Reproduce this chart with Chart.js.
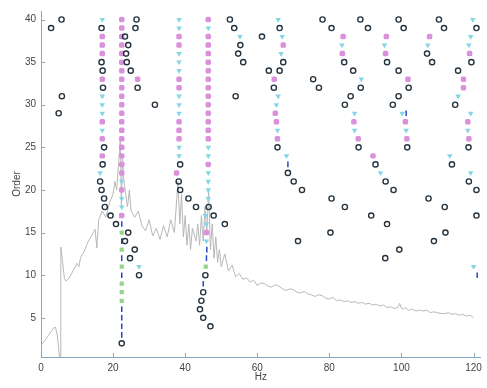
<!DOCTYPE html>
<html>
<head>
<meta charset="utf-8">
<script src="https://cdn.jsdelivr.net/npm/chart.js@4.4.1/dist/chart.umd.min.js"></script>
<style>
  html, body { margin: 0; padding: 0; background: #ffffff; }
  #wrap { width: 487px; height: 388px; }
</style>
</head>
<body>
<div id="wrap"><canvas id="c" width="487" height="388"></canvas></div>
<script>
// ---- tick labels ----
const xTicks = [0, 20, 40, 60, 80, 100, 120];
const yTicks = [5, 10, 15, 20, 25, 30, 35, 40];

// ---- spectrum (grey line), frequency [Hz] and scaled level (order units) ----
const specHz = [0,0.5,1,1.5,2,2.5,3,3.5,4,4.5,5,5.3,5.5,6,6.5,7,8,9,10,10.5,11,12,13,14,15,15.5,16,17,18,19,20,20.5,21,21.5,22,22.3,22.6,23,23.5,24,24.5,25,26,27,28,29,30,31,32,33,34,35,36,37,37.5,38,38.5,39,39.5,40,40.5,41,41.5,42,43,43.5,44,44.5,45,45.5,46,46.5,47,47.5,48,48.5,49,49.5,50,51,52,53,54,55,56,57,58,59,60,61,62,63,64,65,66,67,68,69,70,71,72,73,74,75,76,77,78,79,80,81,82,83,84,85,86,87,88,89,90,91,92,93,94,95,96,97,98,99,99.5,100,100.5,101,102,103,104,105,106,107,108,109,110,111,112,113,114,115,116,117,118,119,120];
const specVal = [1.8,2.0,2.3,2.6,2.9,3.2,3.5,3.8,3.9,3.0,1.0,0.1,13.3,11.5,9.6,9.3,9.8,10.6,11.4,11.0,12.1,12.8,13.9,14.6,15.4,13.2,16.5,17.5,16.8,18.5,19.5,21.0,20.0,23.0,26.0,18.0,24.0,21.0,19.5,18.0,20.0,17.5,16.8,17.5,15.8,15.2,16.5,14.6,15.5,14.2,15.8,14.5,16.5,15.0,18.0,21.0,16.0,19.5,14.5,17.0,13.5,16.0,13.0,15.5,14.0,16.0,13.5,17.0,14.0,18.0,15.0,20.0,13.0,16.0,12.0,14.5,11.5,13.0,11.0,12.5,10.5,11.2,9.8,10.2,9.5,9.7,9.2,9.4,8.8,9.1,9.0,8.7,8.6,8.9,8.7,8.4,8.2,8.4,8.3,8.0,7.9,8.1,7.8,7.7,7.5,7.7,7.6,7.3,7.2,7.4,7.0,7.1,6.9,7.0,6.8,6.9,6.7,6.8,6.6,6.7,6.5,6.6,6.4,6.5,6.2,6.3,6.1,6.2,6.7,6.1,6.0,6.2,5.9,6.0,5.8,5.9,5.8,5.9,5.6,5.7,5.6,5.5,5.5,5.6,5.4,5.5,5.3,5.4,5.2,5.3,5.0];

// ---- poles: [Hz, model order] ----
// "o" new pole
const newPole = [
  [5.7,40],[2.8,39],[5.8,31],[4.9,29],[31.6,30],
  [16.8,39],[16.8,35],[17.1,34],[17.2,32],[17.5,25],[17.1,23],[16.4,21],[16.8,20],[17.5,19],[17.7,18],[19.3,17],[20.8,16],
  [26.5,40],[26.2,39],[23.3,38],[24.2,37],[23.6,36],[23.8,35],[24.9,34],[26.8,32],
  [24.2,15],[23.3,14],[26.0,13],[24.7,12],[27.2,10],[22.4,2],
  [38.6,23],[38.2,21],[38.6,20],[40.9,19],[43.0,18],
  [46.5,18],[47.9,17],[51.0,16],
  [45.6,10],[45.0,8],[44.5,7],[44.1,6],[45.0,5],[47.0,4],
  [52.4,40],[53.6,39],[55.3,37],[54.7,36],[56.1,35],[61.3,38],[54.0,31],
  [66.2,39],[67.2,35],[63.2,34],[66.2,34],[64.6,32],[65.6,25],[68.5,22],[70.1,21],[72.4,20],[71.3,14],
  [75.5,33],[77.1,32],
  [78.1,40],[80.6,39],[84.1,35],[86.6,34],[88.7,32],[85.9,31],[84.3,30],[88.1,25],[92.8,23],[95.6,21],[97.8,20],
  [88.6,40],[90.7,39],[96.0,35],[99.2,34],[102.0,32],[99.2,31],[97.6,30],[101.6,25],
  [99.2,40],[100.6,39],[107.1,36],[108.5,35],[115.7,34],[114.9,30],[114.0,23],[118.7,21],[120.8,20],
  [110.4,40],[111.8,39],[120.8,39],[119.4,35],[118.6,25],
  [80.6,19],[84.3,18],[91.6,17],[96.0,16],[80.3,15],[99.4,13],[109.0,14],[112.2,15],[112.0,18],[107.5,19],[120.8,17],[95.5,12]
];
// "f" stable frequency
const stableFreq = [
  [22.4,16],[22.4,14],[22.4,12],[22.4,10],[22.4,6],[22.4,5],[22.4,4],[22.4,3],
  [46.0,13],[45.9,12],[45.0,9],
  [68.5,23],[101.3,29],[121.0,10]
];
// "v" stable frequency and vector
const stableVec = [
  [17.0,40],[17.0,31],[17.0,30],[17.0,29],[17.0,27],[16.4,22],
  [22.4,21],[22.4,19],[22.4,18],
  [38.3,40],[38.3,39],[38.3,36],[38.3,35],[38.3,34],[38.3,31],[38.3,30],[38.3,29],[38.3,25],[38.3,24],
  [46.4,39],[46.4,25],[46.4,24],[46.4,22],[46.4,21],[46.4,20],[46.4,19],[45.6,17],[45.9,16],[45.9,14],
  [27.2,11],[55.2,38],
  [65.8,40],[66.9,38],[66.6,36],[65.8,31],[65.3,30],[65.6,27],[68.1,24],
  [83.5,37],[88.9,33],[87.0,29],[87.0,27],[94.2,22],
  [95.3,37],[100.2,29],[101.3,27],
  [107.3,37],[115.7,31],[119.2,29],[118.4,27],[113.4,24],[119.2,22],
  [119.8,40],[119.2,38],[118.7,37],[120.0,11]
];
// "d" stable frequency and damping
const stableDamp = [
  [22.4,15],[22.4,13],[22.4,11],[22.4,9],[22.4,8],[22.4,7],[45.7,11]
];
// "s" stable in all criteria
const stableAll = [
  [17.0,38],[17.0,37],[17.0,36],[17.0,33],[17.0,28],[17.0,26],[17.0,24],
  [22.4,40],[22.4,39],[22.4,38],[22.4,37],[22.4,36],[22.4,35],[22.4,34],[22.4,33],[22.4,32],[22.4,31],[22.4,30],
  [22.4,29],[22.4,28],[22.4,27],[22.4,26],[22.4,25],[22.4,24],[22.4,23],[22.4,22],[22.4,20],[22.4,17],
  [26.8,33],
  [38.3,38],[38.3,37],[38.3,33],[38.3,32],[38.3,28],[38.3,27],[38.3,26],[37.6,22],
  [46.4,40],[46.4,38],[46.4,37],[46.4,36],[46.4,35],[46.4,34],[46.4,33],[46.4,32],[46.4,31],[46.4,30],[46.4,29],
  [46.4,28],[46.4,27],[46.4,26],[46.4,23],[45.9,15],
  [67.2,37],[64.7,33],[65.0,29],[65.3,28],[65.6,26],
  [83.8,38],[83.6,36],[86.8,28],[88.0,26],[92.1,24],
  [95.8,38],[95.6,36],[101.8,33],[101.1,28],[101.5,26],
  [107.8,38],[117.2,33],[117.2,32],[118.4,28],[118.7,26],
  [118.9,36]
];

const toXY = arr => arr.map(p => ({x: p[0], y: p[1]}));
const axisColor = '#86a9bf';

const inwardTicks = {
  id: 'inwardTicks',
  afterDatasetsDraw(chart) {
    const {ctx, chartArea, scales} = chart;
    ctx.save();
    ctx.strokeStyle = axisColor;
    ctx.lineWidth = 1;
    xTicks.forEach(v => {
      const px = Math.round(scales.x.getPixelForValue(v)) + 0.5;
      ctx.beginPath(); ctx.moveTo(px, chartArea.bottom); ctx.lineTo(px, chartArea.bottom - 4); ctx.stroke();
    });
    yTicks.forEach(v => {
      const py = Math.round(scales.y.getPixelForValue(v)) + 0.5;
      ctx.beginPath(); ctx.moveTo(chartArea.left, py); ctx.lineTo(chartArea.left + 4, py); ctx.stroke();
    });
    ctx.restore();
  }
};

new Chart(document.getElementById('c'), {
  type: 'scatter',
  data: {
    datasets: [
      { label: 'o', data: toXY(newPole), pointStyle: 'circle', pointRadius: 2.6, borderWidth: 1.4,
        borderColor: '#26343f', backgroundColor: 'rgba(255,255,255,0)' },
      { label: 'f', data: toXY(stableFreq), pointStyle: 'line', pointRotation: 90, pointRadius: 2.8, borderWidth: 1.5,
        borderColor: '#2a46c8', backgroundColor: '#2a46c8' },
      { label: 'v', data: toXY(stableVec), pointStyle: 'triangle', pointRotation: 180, pointRadius: 3.2, borderWidth: 0,
        borderColor: '#84d5e7', backgroundColor: '#84d5e7' },
      { label: 'd', data: toXY(stableDamp), pointStyle: 'rect', pointRadius: 3, borderWidth: 0,
        borderColor: '#92d68c', backgroundColor: '#92d68c' },
      { label: 's', data: toXY(stableAll), pointStyle: 'rectRounded', pointRadius: 3.2, borderWidth: 0,
        borderColor: '#da90da', backgroundColor: '#da90da' },
      { label: 'spectrum', data: specHz.map((h, i) => ({x: h, y: specVal[i]})), showLine: true,
        pointRadius: 0, borderColor: '#b8b8b8', borderWidth: 1, order: 10 }
    ]
  },
  options: {
    responsive: false,
    animation: false,
    devicePixelRatio: 1,
    layout: { padding: { top: 6, right: 6, bottom: 0, left: 0 } },
    plugins: { legend: { display: false }, tooltip: { enabled: false } },
    scales: {
      x: {
        type: 'linear', min: 0, max: 122,
        afterFit: s => { s.height = 31; },
        afterBuildTicks: s => { s.ticks = xTicks.map(v => ({value: v})); },
        grid: { display: true, drawOnChartArea: false, drawTicks: false },
        border: { display: true, color: axisColor, width: 1 },
        ticks: { padding: 5, color: '#444', font: { family: 'Liberation Sans, Arial, sans-serif', size: 10 }, maxRotation: 0 },
        title: { display: true, text: 'Hz', color: '#444', padding: { top: 0, bottom: 5 },
                 font: { family: 'Liberation Sans, Arial, sans-serif', size: 10 } }
      },
      y: {
        type: 'linear', min: 0.4, max: 41,
        afterFit: s => { s.width = 41; },
        afterBuildTicks: s => { s.ticks = yTicks.map(v => ({value: v})); },
        grid: { display: true, drawOnChartArea: false, drawTicks: false },
        border: { display: true, color: axisColor, width: 1 },
        ticks: { padding: 5, color: '#444', font: { family: 'Liberation Sans, Arial, sans-serif', size: 10 } },
        title: { display: true, text: 'Order', color: '#444', padding: { top: 11, bottom: 0 },
                 font: { family: 'Liberation Sans, Arial, sans-serif', size: 10 } }
      }
    }
  },
  plugins: [inwardTicks]
});
</script>
</body>
</html>
